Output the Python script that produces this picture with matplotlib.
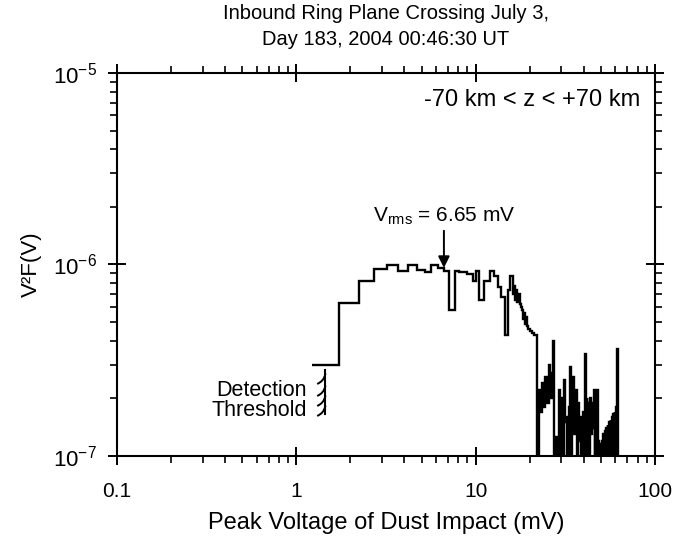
import matplotlib

matplotlib.use("Agg")
import matplotlib.pyplot as plt  # noqa: E402
import numpy as np  # noqa: E402
from matplotlib.path import Path  # noqa: E402
from matplotlib.ticker import FixedLocator, LogLocator, NullFormatter  # noqa: E402

plt.rcParams["font.family"] = ["Liberation Sans", "DejaVu Sans"]
plt.rcParams["mathtext.fontset"] = "custom"
plt.rcParams["mathtext.rm"] = "Liberation Sans"
plt.rcParams["mathtext.it"] = "Liberation Sans:italic"
plt.rcParams["mathtext.bf"] = "Liberation Sans:bold"

# V^2 F(V) in units of 1e-7; 0 = empty bin
main_edges = [1.23, 1.72, 2.23, 2.71, 3.2, 3.71, 4.21, 4.7, 5.2, 5.6, 6.2, 6.7,
              7.07, 7.64, 8.1, 9.0, 9.6, 10.1, 10.5, 11.1, 12.0, 12.6, 13.4, 13.9,
              14.5, 15.1, 15.6, 16.1, 16.35, 16.6, 16.85, 17.1, 17.35, 17.6, 17.85,
              18.1, 18.35, 18.6, 18.85, 19.1, 19.35, 19.6, 20.1, 20.6, 21.1, 22.0]
main_vals = [3.0, 6.3, 8.2, 9.5, 9.9, 9.2, 9.9, 9.4, 9.1, 9.9, 9.6, 9.3,
             5.8, 9.3, 9.1, 8.9, 8.2, 9.2, 6.5, 8.2, 9.2, 8.7, 7.6, 6.8,
             4.3, 7.4, 8.7, 7.0, 7.7, 6.5, 7.4, 6.4, 7.0, 6.2, 6.0,
             5.8, 5.2, 5.6, 4.9, 5.3, 4.8, 4.6, 4.5, 4.4, 4.3]

# noisy tail, 0.5 mV bins
tail_edges = [22.0, 22.5, 23.0, 23.5, 24.0, 24.5, 25.0, 25.5, 26.0, 26.5,
              27.0, 27.5, 28.0, 28.5, 29.0, 29.5, 30.0, 30.5, 31.0, 31.5,
              32.0, 32.5, 33.0, 33.5, 34.0, 34.5, 35.0, 35.5, 36.0, 36.5,
              37.0, 37.5, 38.0, 38.5, 39.0, 39.5, 40.0, 40.5, 41.0, 41.5,
              42.0, 42.5, 43.0, 43.5, 44.0, 44.5, 45.0, 45.5, 46.0, 46.5,
              47.0, 47.5, 48.0, 48.5, 49.0, 49.5, 50.0, 50.5, 51.0, 51.5,
              52.0, 52.5, 53.0, 53.5, 54.0, 54.5, 55.0, 55.5, 56.0, 56.5,
              57.0, 57.5, 58.0, 58.5, 59.0, 59.5, 60.0, 60.5, 61.0, 61.5,
              62.0, 62.5]
tail_vals = [0, 2.2, 1.7, 2.4, 1.8, 2.6, 1.9, 3.0, 2.0, 2.7,
             4.0, 0, 1.25, 0, 2.2, 0, 2.0, 0, 2.5, 1.5,
             1.6, 0, 1.8, 2.9, 0, 2.0, 2.6, 1.3, 2.2, 0,
             1.9, 1.2, 1.6, 0, 1.3, 1.7, 0, 3.4, 1.5, 2.0,
             0, 1.9, 0, 2.0, 1.3, 1.9, 1.4, 2.2, 0, 1.8,
             0, 2.2, 1.2, 1.15, 0, 1.15, 0, 1.2, 0, 1.3,
             0, 1.35, 0, 1.4, 0, 1.45, 0, 1.5, 0, 1.55,
             0, 1.6, 0, 1.65, 0, 1.7, 0, 1.8, 0, 3.6,
             0]

x_ticks = [0.1, 1, 10, 100]
x_labels = ["0.1", "1", "10", "100"]
y_ticks = [1e-7, 1e-6, 1e-5]
y_labels = [r"$\mathregular{10^{-7}}$", r"$\mathregular{10^{-6}}$", r"$\mathregular{10^{-5}}$"]

v_rms = 6.65
rms_level = 9.6e-7
threshold_v = 1.44
threshold_span = [2.81e-7, 1.66e-7]
hatch_y = [2.71e-7, 2.35e-7, 2.08e-7, 1.85e-7]

FLOOR = 1e-9  # empty bins end up below the axis

edges = np.array(main_edges + tail_edges[1:])
vals = np.array(main_vals + tail_vals, dtype=float)
vals = np.where(vals > 0, vals * 1e-7, FLOOR)

fig = plt.figure(figsize=(6.9, 5.36), dpi=100)
ax = fig.add_axes([0.1696, 0.1493, 0.7797, 0.7145])

ax.stairs(vals, edges, baseline=None, color="black", lw=1.7)

ax.set_xscale("log")
ax.set_yscale("log")
ax.set_xlim(0.1, 100)
ax.set_ylim(1e-7, 1e-5)

ax.xaxis.set_major_locator(FixedLocator(x_ticks))
ax.set_xticklabels(x_labels)
ax.yaxis.set_major_locator(FixedLocator(y_ticks))
ax.set_yticklabels(y_labels)
ax.xaxis.set_minor_locator(LogLocator(base=10, subs=np.arange(2, 10)))
ax.yaxis.set_minor_locator(LogLocator(base=10, subs=np.arange(2, 10)))
ax.xaxis.set_minor_formatter(NullFormatter())
ax.yaxis.set_minor_formatter(NullFormatter())

ax.tick_params(which="major", direction="inout", length=13, width=1.4,
               top=True, right=True, pad=12)
ax.tick_params(axis="x", which="major", labelsize=15)
ax.tick_params(axis="y", which="major", labelsize=16, pad=8)
ax.tick_params(which="minor", direction="out", length=5, width=1.2,
               top=True, right=True)
for s in ax.spines.values():
    s.set_linewidth(1.5)

ax.set_xlabel("Peak Voltage of Dust Impact (mV)", fontsize=17, labelpad=8)
ax.set_ylabel("V²F(V)", fontsize=16, labelpad=8)
ax.set_title("Inbound Ring Plane Crossing July 3,\nDay 183, 2004 00:46:30 UT",
             fontsize=14.5, pad=20, linespacing=1.45)

ax.text(0.972, 0.93, "-70 km < z < +70 km", transform=ax.transAxes,
        ha="right", va="center", fontsize=17)

# V_rms marker
ax.text(v_rms, 1.67e-6, r"V$_{\mathrm{rms}}$ = 6.65 mV", ha="center",
        va="baseline", fontsize=15)
ax.annotate("", xy=(v_rms, rms_level), xytext=(v_rms, 1.5e-6),
            arrowprops=dict(arrowstyle="-|>", color="black", lw=1.4,
                            mutation_scale=17, shrinkA=0, shrinkB=0))

# detection threshold
ax.plot([threshold_v, threshold_v], threshold_span, color="black", lw=1.5)
hatch = Path([(0, 0), (-0.15, -0.75), (-0.8, -1)],
             [Path.MOVETO, Path.CURVE3, Path.CURVE3])
ax.plot([threshold_v] * len(hatch_y), hatch_y, ls="none", marker=hatch,
        ms=15, mfc="none", mec="black", mew=1.4)
ax.text(1.145, 1.95e-7, "Detection\nThreshold", ha="right", va="center",
        fontsize=15.5, linespacing=0.95)

fig.savefig("out.png", dpi=100)
